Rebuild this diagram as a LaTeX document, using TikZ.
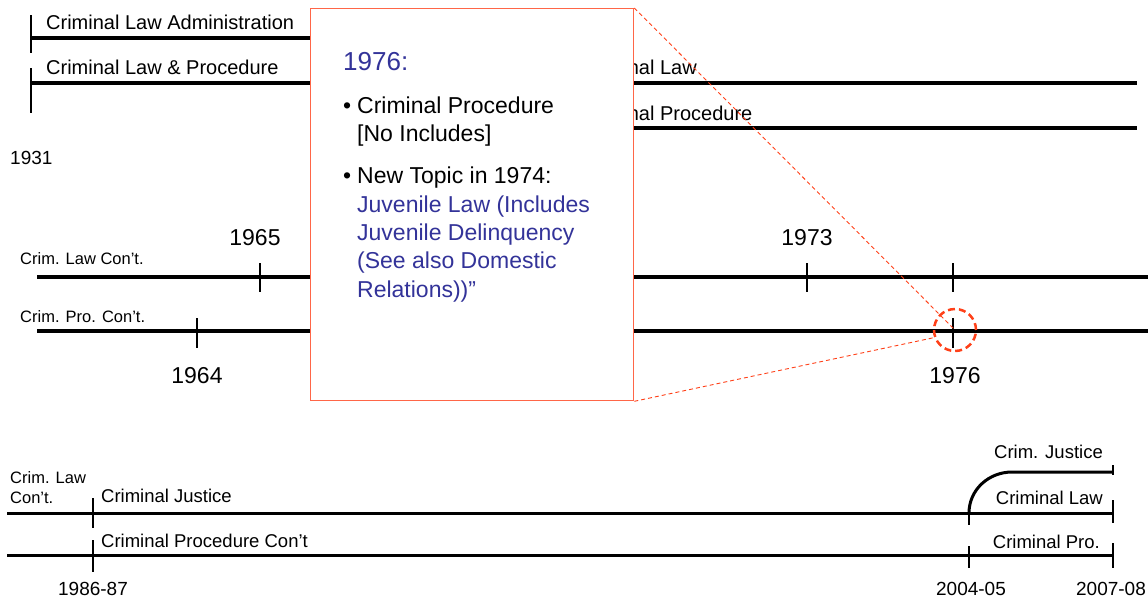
\documentclass[tikz,border=0pt]{standalone}
\usepackage{fontspec}
\setmainfont{Liberation Sans}
\definecolor{boxred}{RGB}{255,102,72}
\definecolor{spotred}{RGB}{255,64,24}
\definecolor{noteblue}{RGB}{51,51,153}
\tikzset{
  timebar/.style={line width=4pt},
  thinbar/.style={line width=3pt},
  yeartick/.style={line width=1.2pt},
  lbl/.style={anchor=base west,inner sep=0pt,font=\fontsize{20}{24}\selectfont},
  lowlbl/.style={anchor=base west,inner sep=0pt,font=\fontsize{18.5}{22}\selectfont},
  smalllbl/.style={anchor=base west,inner sep=0pt,font=\fontsize{16.5}{20}\selectfont},
  yrbig/.style={anchor=base,inner sep=0pt,font=\fontsize{23}{27}\selectfont},
  yrsmall/.style={anchor=base,inner sep=0pt,font=\fontsize{19}{23}\selectfont},
  zoombox/.style={draw=boxred,line width=1.3pt,fill=white,inner sep=0pt},
  spot/.style={circle,draw=spotred,line width=2.5pt,dash pattern=on 7pt off 4pt,minimum size=42pt,inner sep=0pt},
  callout/.style={draw=spotred,line width=0.9pt,dash pattern=on 4pt off 3pt},
  boxtxt/.style={anchor=base west,inner sep=0pt,font=\fontsize{23}{28}\selectfont},
  boxhead/.style={anchor=base west,inner sep=0pt,text=noteblue,font=\fontsize{26}{30}\selectfont}
}
\begin{document}
\begin{tikzpicture}[x=1pt,y=-1pt]
\useasboundingbox (0,0) rectangle (1148,600);
% 1931
\draw[timebar] (31,38) -- (310,38);
\draw[timebar] (31,83) -- (1137,83);
\draw[timebar] (560,128) -- (1137,128);
\node[lbl] (adm) at (46,29) {Criminal Law Administration};
\node[lbl] (lawproc) at (46,74) {Criminal Law \& Procedure};
\node[lbl] (law) at (581,74) {Criminal Law};
\node[lbl] (proc) at (581,120) {Criminal Procedure};
\node[yrsmall,anchor=base west] (y1931) at (10,164) {1931};
% 1964 - 1976
\draw[timebar] (37,277) -- (1148,277);
\draw[timebar] (37,331) -- (1148,331);
\node[smalllbl] (lawcont) at (20,264) {Crim. Law Con’t.};
\node[smalllbl] (procont) at (20,322) {Crim. Pro. Con’t.};
\foreach \x/\y/\t in {255/245/1965,807/245/1973,197/383/1964,955/383/1976}
    \node[yrbig] (y\t) at (\x,\y) {\t};
% 1986 - 2008
\draw[thinbar] (7,513) -- (1113,513);
\draw[thinbar] (7,555) -- (1113,555);
\draw[thinbar] (969,513) to[out=90,in=180] (1012,472) -- (1113,472);
\node[smalllbl] (lawcont2) at (10,483) {Crim. Law};
\node[smalllbl] (lawcont3) at (10,503) {Con’t.};
\node[lowlbl] (just) at (101,502) {Criminal Justice};
\node[lowlbl] (procont2) at (101,547) {Criminal Procedure Con’t};
\node[lowlbl,anchor=base east] (cjust) at (1103,458) {Crim. Justice};
\node[lowlbl,anchor=base east] (claw) at (1103,504) {Criminal Law};
\node[lowlbl,anchor=base east] (cpro) at (1100,548) {Criminal Pro.};
\foreach \x/\t in {93/1986-87,971/2004-05,1111/2007-08}
    \node[yrsmall] (y\t) at (\x,595) {\t};
% ticks
\foreach \x/\a/\b in {31/15/53,31/68/113,260/263/292,807/263/292,953/263/292,197/318/348,953/318/348,
    93/498/528,93/540/572,969/511/525,969/546/568,1113/465/475,1113/500/523,1113/543/568}
    \draw[yeartick] (\x,\a) -- (\x,\b);
% zoom on 1976
\node[zoombox,anchor=north west,minimum width=323pt,minimum height=392pt] (zoom) at (310,8) {};
\node[spot] (spot) at (955,330) {};
\draw[callout] (zoom.north east) -- (spot.center);
\draw[callout] (zoom.south east) -- (spot.200);
\node[boxhead] (head) at (343,70) {1976:};
\node[boxtxt] (bul1) at (343,113) {•};
\node[boxtxt] (item1) at (357,113) {Criminal Procedure};
\node[boxtxt] (item1b) at (357,141) {[No Includes]};
\node[boxtxt] (bul2) at (343,183) {•};
\node[boxtxt] (item2) at (357,183) {New Topic in 1974:};
\foreach[count=\k] \t/\y in {{Juvenile Law (Includes}/212,{Juvenile Delinquency}/240,{(See also Domestic}/268,{Relations))”}/297}
    \node[boxtxt,text=noteblue] (juv\k) at (357,\y) {\t};
\end{tikzpicture}
\end{document}
